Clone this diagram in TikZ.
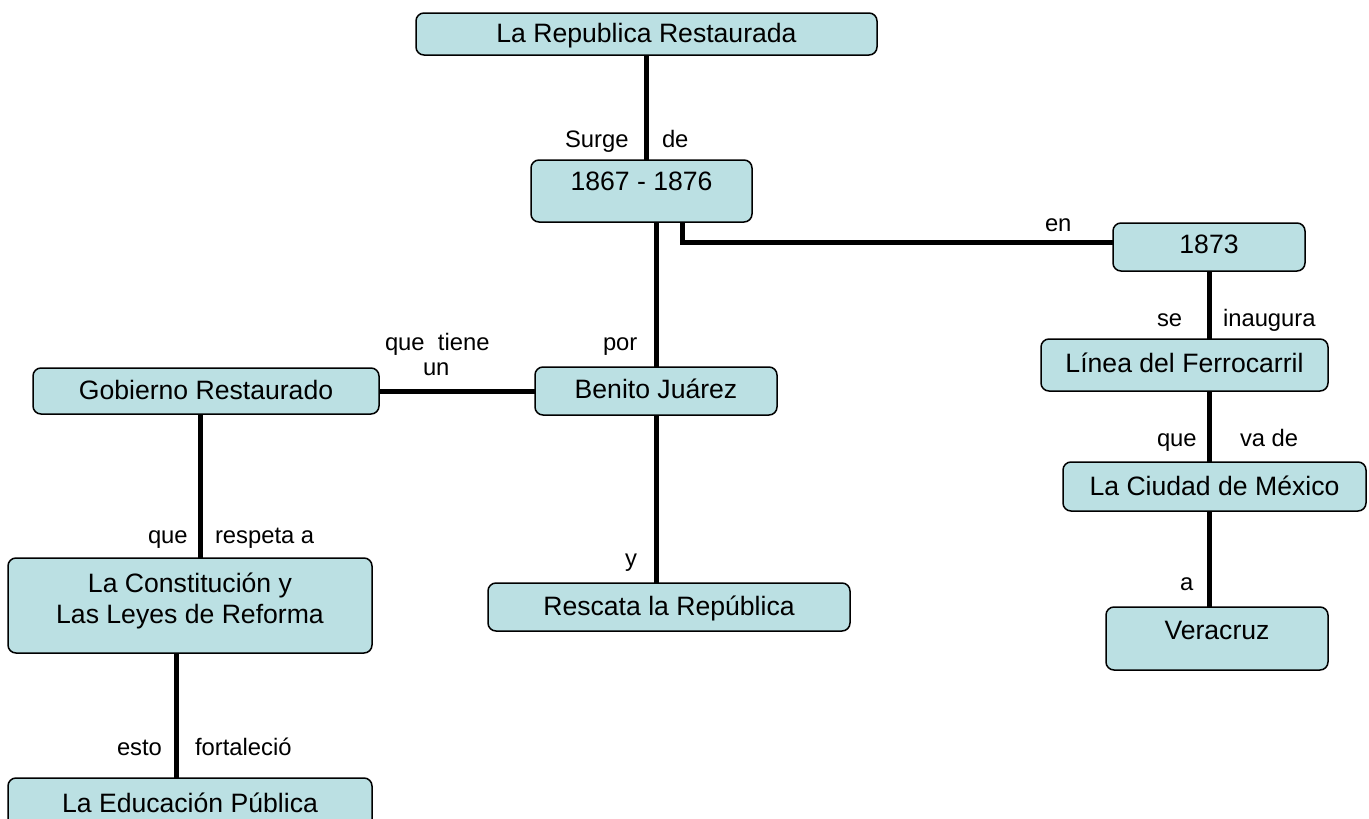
\documentclass[tikz,border=0pt]{standalone}
\usepackage{fontspec}
\setmainfont{Liberation Sans}
\definecolor{boxfill}{RGB}{187,224,227}
\newcommand\boxfont{\fontsize{26.6}{31}\selectfont}
\newcommand\labfont{\fontsize{23.8}{28}\selectfont}
\begin{document}
\begin{tikzpicture}[x=1pt,y=-1pt,
  conbox/.style={draw=black, line width=1.5pt, fill=boxfill, rounded corners=8pt,
    inner sep=0pt, outer sep=0pt, anchor=north west, font=\boxfont},
  link/.style={line width=5pt, black},
  lab/.style={inner sep=0pt, outer sep=0pt, anchor=base west, font=\labfont}]
\useasboundingbox (0,0) rectangle (1369,819);
\clip (0,0) rectangle (1369,819);
\fill[white] (0,0) rectangle (1369,819);

% concept boxes
\node[conbox, minimum width=461pt, text height=29pt, text depth=13pt] (rep) at (416,13) {La Republica Restaurada};
\node[conbox, minimum width=221pt, text height=30pt, text depth=32pt] (per) at (531,160) {1867 - 1876};
\node[conbox, minimum width=192pt, text height=30pt, text depth=18pt] (y73) at (1113,223) {1873};
\node[conbox, minimum width=287pt, text height=33pt, text depth=19pt] (lin) at (1041,339) {Línea del Ferrocarril};
\node[conbox, minimum width=303pt, text height=33pt, text depth=16pt] (ciu) at (1063,462) {La Ciudad de México};
\node[conbox, minimum width=222pt, text height=32pt, text depth=31pt] (ver) at (1106,607) {Veracruz};
\node[conbox, minimum width=242pt, text height=31pt, text depth=17pt] (ben) at (535,367) {Benito Juárez};
\node[conbox, minimum width=346pt, text height=31pt, text depth=15pt] (gob) at (33,368) {Gobierno Restaurado};
\node[conbox, minimum width=362pt, text height=32pt, text depth=16pt] (res) at (488,583) {Rescata la República};
\node[conbox, minimum width=364pt, text height=34pt, text depth=61pt] (con) at (8,558)
  {\begin{tabular}[t]{@{}c@{}}La Constitución y\\Las Leyes de Reforma\end{tabular}};
\node[conbox, minimum width=364pt, text height=34pt, text depth=26pt] (edu) at (8,778) {La Educación Pública};

% connectors
\draw[link] (rep.south) -- (rep.south |- per.north);
\draw[link] (ben.north) -- (ben.north |- per.south);
\draw[link] ([xshift=40.5pt]per.south) |- ([yshift=5pt]y73.west);
\draw[link] (y73.south) -- (y73.south |- lin.north);
\draw[link] ([xshift=24.5pt]lin.south) -- ([xshift=24.5pt]lin.south |- ciu.north);
\draw[link] ([xshift=-8pt]ver.north) -- ([xshift=-8pt]ver.north |- ciu.south);
\draw[link] (ben.west) -- (gob.east);
\draw[link] (ben.south) -- (ben.south |- res.north);
\draw[link] ([xshift=-6pt]gob.south) -- ([xshift=-6pt]gob.south |- con.north);
\draw[link] ([xshift=-14pt]con.south) -- ([xshift=-14pt]con.south |- edu.north);

% connector labels
\node[lab] (l1) at (565,147) {Surge};
\node[lab] (l2) at (662,147) {de};
\node[lab] (l3) at (1045,231) {en};
\node[lab] (l4) at (1157,326) {se};
\node[lab] (l5) at (1223,326) {inaugura};
\node[lab] (l6) at (1157,446) {que};
\node[lab] (l7) at (1240,446) {va de};
\node[lab] (l8) at (1180,590) {a};
\node[lab] (l9) at (603,350) {por};
\node[lab] (l10) at (385,350) {que\ \ tiene};
\node[lab] (l11) at (423,375) {un};
\node[lab] (l12) at (148,543) {que};
\node[lab] (l13) at (215,543) {respeta a};
\node[lab] (l14) at (625,566) {y};
\node[lab] (l15) at (117,755) {esto};
\node[lab] (l16) at (195,755) {fortaleció};
\end{tikzpicture}
\end{document}
